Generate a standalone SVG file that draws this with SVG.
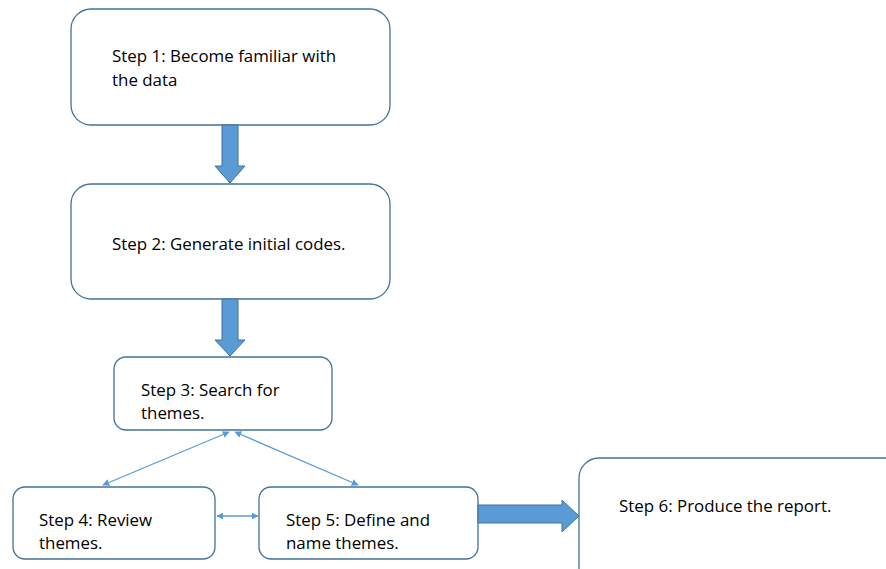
<svg xmlns="http://www.w3.org/2000/svg" width="886" height="569" viewBox="0 0 886 569">
<style>
.box{fill:#ffffff;stroke:#41719C;stroke-width:1.3}
.t{font-family:"Open Sans","Liberation Sans",sans-serif;font-size:16.9px;fill:#000000}
.blk{fill:#5B9BD5;stroke:#41719C;stroke-width:1}
.ln{stroke:#5B9BD5;stroke-width:1.3;fill:none}
</style>
<defs>
<marker id="ah" viewBox="0 0 10 10" refX="9" refY="5" markerWidth="7" markerHeight="7" markerUnits="userSpaceOnUse" orient="auto-start-reverse">
<path d="M0,0 L10,5 L0,10 z" fill="#5B9BD5"/>
</marker>
</defs>
<rect width="886" height="569" fill="#ffffff"/>
<g id="step1">
<rect class="box" x="71" y="9" width="319" height="116" rx="20"/>
<text class="t" x="112" y="62">Step 1: Become familiar with</text>
<text class="t" x="112" y="86">the data</text>
</g>
<g id="step2">
<rect class="box" x="71" y="184" width="319" height="115" rx="20"/>
<text class="t" x="112" y="250">Step 2: Generate initial codes.</text>
</g>
<g id="step3">
<rect class="box" x="114" y="357" width="218" height="73" rx="12"/>
<text class="t" x="141" y="396">Step 3: Search for</text>
<text class="t" x="141" y="419">themes.</text>
</g>
<g id="step4">
<rect class="box" x="13" y="487" width="202" height="72" rx="12"/>
<text class="t" x="39" y="526">Step 4: Review</text>
<text class="t" x="39" y="549">themes.</text>
</g>
<g id="step5">
<rect class="box" x="259" y="487" width="219" height="72" rx="12"/>
<text class="t" x="286" y="526">Step 5: Define and</text>
<text class="t" x="286" y="549">name themes.</text>
</g>
<g id="step6">
<rect class="box" x="579" y="458" width="330" height="130" rx="20"/>
<text class="t" x="619" y="512">Step 6: Produce the report.</text>
</g>
<g id="connectors">
<path class="blk" d="M222,125 H238 V166 H245 L230,183 L215,166 H222 Z"/>
<path class="blk" d="M222,299 H238 V340 H245 L230,356 L215,340 H222 Z"/>
<path class="blk" d="M478,505 H562 V500 L579,516 L562,532 V523 H478 Z"/>
<line class="ln" x1="229" y1="432" x2="103" y2="485" marker-start="url(#ah)" marker-end="url(#ah)"/>
<line class="ln" x1="235" y1="432" x2="358" y2="485" marker-start="url(#ah)" marker-end="url(#ah)"/>
<line class="ln" x1="217" y1="516" x2="258" y2="516" marker-start="url(#ah)" marker-end="url(#ah)"/>
</g>
</svg>
